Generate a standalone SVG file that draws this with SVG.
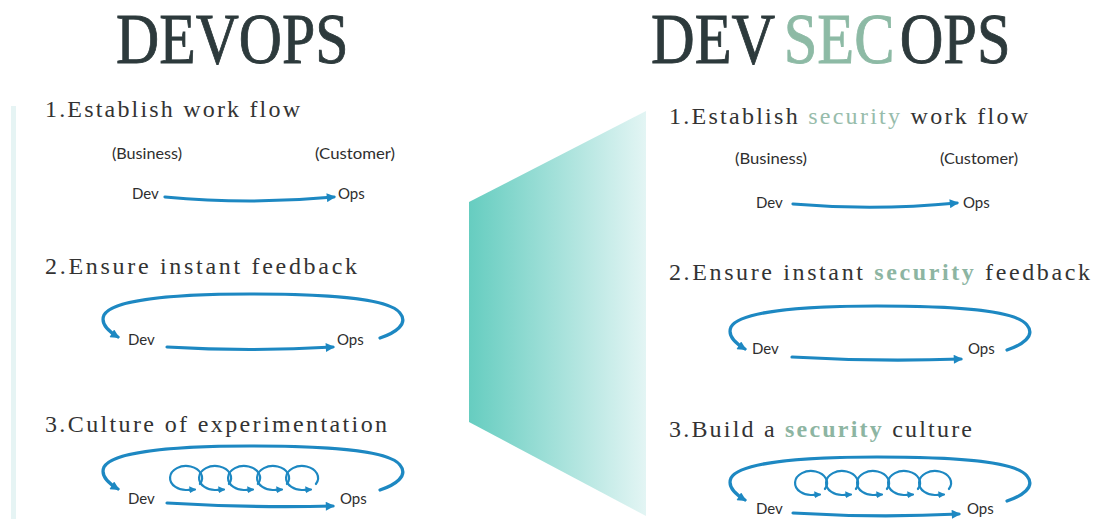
<svg xmlns="http://www.w3.org/2000/svg" width="1094" height="519" viewBox="0 0 1094 519">
  <defs>
    <linearGradient id="panelFill" x1="0" y1="0" x2="1" y2="0">
      <stop offset="0" stop-color="#66cdc0"/>
      <stop offset="1" stop-color="#e3f5f4"/>
    </linearGradient>
    <marker id="ah" viewBox="0 0 10 10" refX="8" refY="5" markerWidth="10" markerHeight="9" markerUnits="userSpaceOnUse" orient="auto">
      <path d="M0,0 L10,5 L0,10 z" fill="#1d88c2"/>
    </marker>
    <marker id="ahs" viewBox="0 0 10 10" refX="8" refY="5" markerWidth="7" markerHeight="7" markerUnits="userSpaceOnUse" orient="auto">
      <path d="M0,0 L10,5 L0,10 z" fill="#1d88c2"/>
    </marker>
    <style>
      .title { font-family: "Liberation Serif", "Times New Roman", serif; font-size: 72px; fill: #2d3a3c; stroke: #2d3a3c; stroke-width: 0.9; }
      .sec { fill: #8dbaa5; stroke: #8dbaa5; }
      .head { font-family: "Liberation Serif", "Times New Roman", serif; font-size: 24px; fill: #333333; }
      .hl { fill: #97bcab; }
      .hlb { fill: #8db5a2; font-weight: bold; }
      .lbl { font-family: Lato, "Open Sans", sans-serif; font-size: 15px; fill: #2e2e2e; }
      .flow { fill: none; stroke: #1d88c2; stroke-width: 3.2; stroke-linecap: round; marker-end: url(#ah); }
      .curl { fill: none; stroke: #1d88c2; stroke-width: 2.2; stroke-linecap: round; marker-end: url(#ahs); }
    </style>
  </defs>

  <rect width="1094" height="519" fill="#ffffff"/>

  <!-- side strip and central panel -->
  <rect x="11" y="106" width="5" height="413" fill="#e6f4f4"/>
  <polygon id="panel" points="469,202 646,111 646,516 469,422" fill="url(#panelFill)"/>

  <!-- titles: condensed serif -->
  <g id="title-devops">
    <text class="title" transform="translate(116,63) scale(0.83,1)" x="0" y="0">DEVOPS</text>
  </g>
  <g id="title-devsecops">
    <text class="title" transform="translate(651,63) scale(0.84,1)" x="0" y="0">DEV<tspan class="sec" x="158">SEC</tspan><tspan x="296">OPS</tspan></text>
  </g>

  <!-- headings -->
  <g id="headings-devops">
    <text class="head" x="45" y="117" textLength="255" lengthAdjust="spacing">1.Establish work flow</text>
    <text class="head" x="45" y="274" textLength="312" lengthAdjust="spacing">2.Ensure instant feedback</text>
    <text class="head" x="45" y="432" textLength="342" lengthAdjust="spacing">3.Culture of experimentation</text>
  </g>
  <g id="headings-devsecops">
    <text class="head" x="669" y="124" textLength="359" lengthAdjust="spacing">1.Establish <tspan class="hl">security</tspan> work flow</text>
    <text class="head" x="669" y="280" textLength="421" lengthAdjust="spacing">2.Ensure instant <tspan class="hlb">security</tspan> feedback</text>
    <text class="head" x="669" y="437" textLength="303" lengthAdjust="spacing">3.Build a <tspan class="hlb">security</tspan> culture</text>
  </g>

  <!-- DevOps nodes -->
  <g id="devops-business"><text class="lbl" x="112" y="159" textLength="70" lengthAdjust="spacingAndGlyphs">(Business)</text></g>
  <g id="devops-customer"><text class="lbl" x="315" y="159" textLength="80" lengthAdjust="spacingAndGlyphs">(Customer)</text></g>
  <g id="devops-dev-1"><text class="lbl" x="132" y="199">Dev</text></g>
  <g id="devops-ops-1"><text class="lbl" x="338" y="199">Ops</text></g>
  <g id="devops-dev-2"><text class="lbl" x="128" y="345">Dev</text></g>
  <g id="devops-ops-2"><text class="lbl" x="337" y="345">Ops</text></g>
  <g id="devops-dev-3"><text class="lbl" x="128" y="504">Dev</text></g>
  <g id="devops-ops-3"><text class="lbl" x="340" y="504">Ops</text></g>

  <!-- DevSecOps nodes -->
  <g id="devsecops-business"><text class="lbl" x="735" y="164" textLength="72" lengthAdjust="spacingAndGlyphs">(Business)</text></g>
  <g id="devsecops-customer"><text class="lbl" x="940" y="164" textLength="78" lengthAdjust="spacingAndGlyphs">(Customer)</text></g>
  <g id="devsecops-dev-1"><text class="lbl" x="756" y="208">Dev</text></g>
  <g id="devsecops-ops-1"><text class="lbl" x="963" y="208">Ops</text></g>
  <g id="devsecops-dev-2"><text class="lbl" x="752" y="354">Dev</text></g>
  <g id="devsecops-ops-2"><text class="lbl" x="968" y="354">Ops</text></g>
  <g id="devsecops-dev-3"><text class="lbl" x="756" y="514">Dev</text></g>
  <g id="devsecops-ops-3"><text class="lbl" x="967" y="514">Ops</text></g>

  <!-- connectors -->
  <g id="connectors">
    <!-- DevOps: work flow -->
    <path class="flow" d="M165,197 Q250,205 334,197"/>
    <!-- DevOps: feedback -->
    <path class="flow" d="M167,347 Q250,352 333,347"/>
    <path class="flow" d="M380,338 C395,333 409,324 400,313 C388,297 320,294 250,294 C170,294 112,300 104,315 C100,324 108,331 118,337"/>
    <!-- DevOps: experimentation -->
    <path class="flow" d="M167,503 Q250,508 333,506"/>
    <path class="flow" transform="translate(0,152)" d="M380,338 C395,333 409,324 400,313 C388,297 320,294 250,294 C170,294 112,300 104,315 C100,324 108,331 118,337"/>
    <!-- small iteration curls, each an open ellipse ending in an arrow -->
    <path class="curl" d="M199.9,484 A16 12 0 1 0 188.8,489.8 L195,489.5"/>
    <path class="curl" d="M228.9,484 A16 12 0 1 0 217.8,489.8 L224,489.5"/>
    <path class="curl" d="M257.9,484 A16 12 0 1 0 246.8,489.8 L253,489.5"/>
    <path class="curl" d="M286.9,484 A16 12 0 1 0 275.8,489.8 L282,489.5"/>
    <path class="curl" d="M315.9,484 A16 12 0 1 0 304.8,489.8 L311,489.5"/>

    <!-- DevSecOps: work flow -->
    <path class="flow" d="M793,204 Q875,211 957,203"/>
    <!-- DevSecOps: feedback -->
    <path class="flow" d="M792,357 Q877,362 961,359"/>
    <path class="flow" transform="translate(627,12)" d="M380,338 C395,333 409,324 400,313 C388,297 320,294 250,294 C170,294 112,300 104,315 C100,324 108,331 118,337"/>
    <!-- DevSecOps: security culture -->
    <path class="flow" d="M793,513 Q877,518 959,514"/>
    <path class="flow" transform="translate(627,163)" d="M380,338 C395,333 409,324 400,313 C388,297 320,294 250,294 C170,294 112,300 104,315 C100,324 108,331 118,337"/>
    <path class="curl" d="M824.9,489 A16 12 0 1 0 813.8,494.8 L820,494.5"/>
    <path class="curl" d="M855.9,489 A16 12 0 1 0 844.8,494.8 L851,494.5"/>
    <path class="curl" d="M886.9,489 A16 12 0 1 0 875.8,494.8 L882,494.5"/>
    <path class="curl" d="M917.9,489 A16 12 0 1 0 906.8,494.8 L913,494.5"/>
    <path class="curl" d="M948.9,489 A16 12 0 1 0 937.8,494.8 L944,494.5"/>
  </g>
</svg>
